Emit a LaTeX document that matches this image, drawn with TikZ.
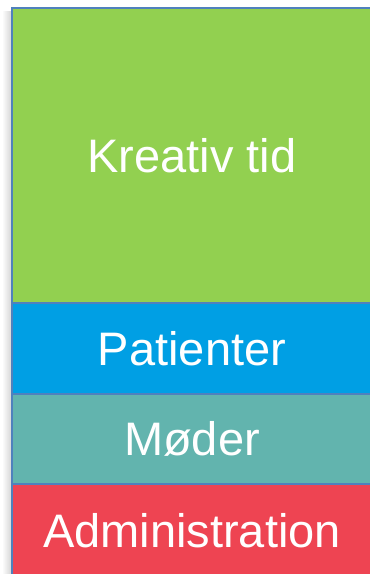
\documentclass[tikz,border=0pt]{standalone}
\usepackage{fontspec}
\setmainfont{Liberation Sans}
\definecolor{cgreen}{HTML}{92D050}
\definecolor{cblue}{HTML}{009FE4}
\definecolor{cteal}{HTML}{62B4AE}
\definecolor{cred}{HTML}{EE4452}
\definecolor{cborder}{HTML}{4F81BD}
\tikzset{
  block/.style={draw=cborder, line width=1.6pt, inner sep=0pt, anchor=north west, minimum width=369pt},
  label/.style={anchor=base, text=white, inner sep=0pt, font=\fontsize{47}{56}\selectfont}
}
\begin{document}
\begin{tikzpicture}[x=1pt,y=1pt]
\useasboundingbox (0,0) rectangle (370,574);
\begin{scope}
\clip (0,0) rectangle (370,574);
\fill[white] (0,0) rectangle (370,574);
\shade[left color=white, right color=black!16] (2,0) rectangle (11,562);
\node[block, fill=cgreen, minimum height=295pt] (g) at (11,567) {};
\node[block, fill=cred, minimum height=110pt] (r) at (11,91) {};
\node[block, fill=cteal, minimum height=90pt] (t) at (11,181) {};
\node[block, fill=cblue, minimum height=91pt] (b) at (11,272) {};
\node[label] (kt) at (192,401) {Kreativ tid};
\node[label] (pa) at (192,208) {Patienter};
\node[label] (mo) at (192,118.3) {Møder};
\node[label] (ad) at (192,27) {Administration};
\end{scope}
\end{tikzpicture}
\end{document}
